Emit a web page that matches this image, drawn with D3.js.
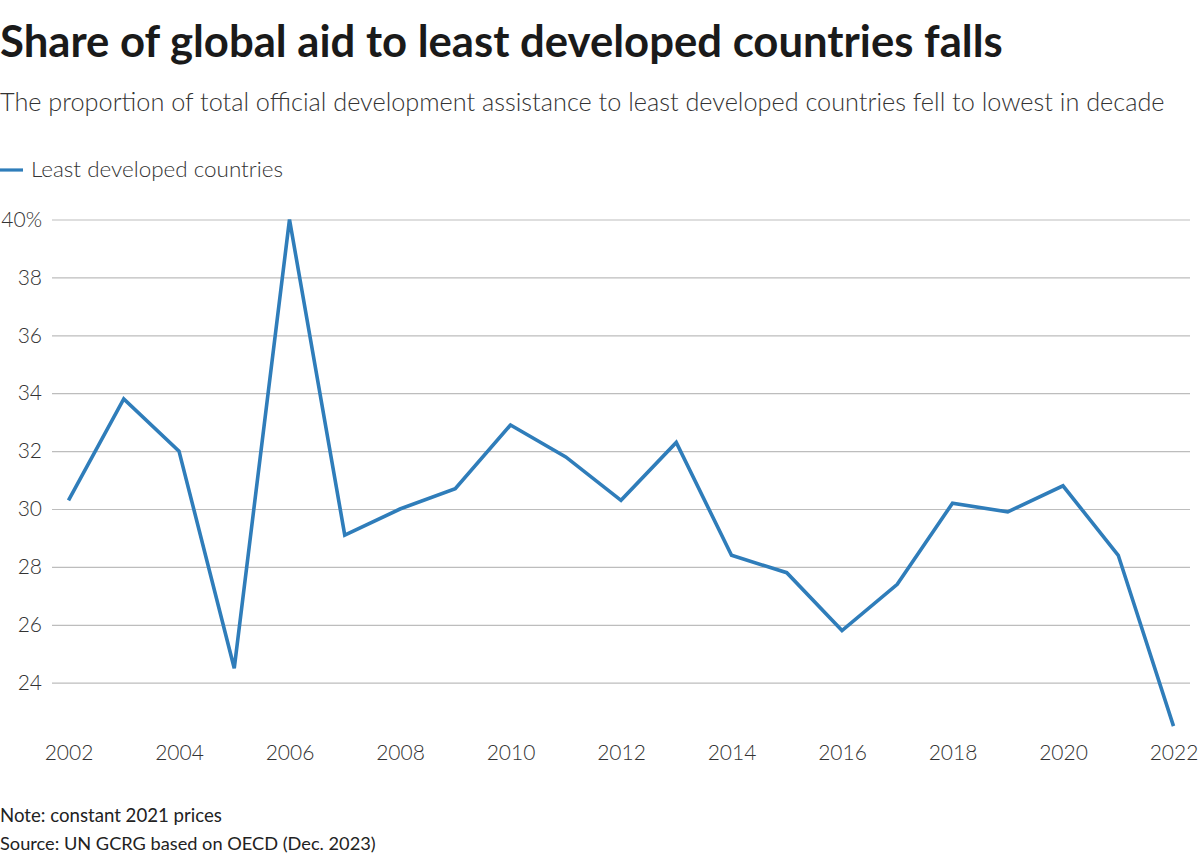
<!DOCTYPE html>
<html>
<head>
<meta charset="utf-8">
<script src="https://cdn.jsdelivr.net/npm/d3@7"></script>
<style>
  html, body { margin: 0; padding: 0; background: #fff; }
  svg text { font-family: "Source Sans Pro", Lato, "Noto Sans", sans-serif; }
</style>
</head>
<body>
<svg id="chart" width="1200" height="860"></svg>
<script>
const years = [2002,2003,2004,2005,2006,2007,2008,2009,2010,2011,2012,2013,2014,2015,2016,2017,2018,2019,2020,2021,2022];
const shares = [30.3,33.8,32.0,24.5,40.0,29.1,30.0,30.7,32.9,31.8,30.3,32.3,28.4,27.8,25.8,27.4,30.2,29.9,30.8,28.4,22.5];
const yTicks = [24,26,28,30,32,34,36,38,40];
const xTicks = [2002,2004,2006,2008,2010,2012,2014,2016,2018,2020,2022];
const seriesName = "Least developed countries";

const svg = d3.select("#chart");

const x = d3.scaleLinear().domain([2002, 2022]).range([68.5, 1173.5]);
const y = d3.scaleLinear().domain([24, 40]).range([682.7, 219.5]);

function fit(sel, target) {
  const node = sel.node();
  const w = node.getComputedTextLength();
  const fs = parseFloat(sel.attr("font-size"));
  sel.attr("font-size", fs * target / w);
}

// Title
const title = svg.append("text").attr("x", 0).attr("y", 57)
  .attr("font-size", 40).attr("font-weight", 700).attr("fill", "#1a1a1a")
  .text("Share of global aid to least developed countries falls");
fit(title, 1003);

const sub = svg.append("text").attr("x", 0).attr("y", 111)
  .attr("font-size", 26).attr("font-weight", 300).attr("fill", "#333")
  .text("The proportion of total official development assistance to least developed countries fell to lowest in decade");
fit(sub, 1165);

// Legend
svg.append("line").attr("x1", 0).attr("x2", 23).attr("y1", 170).attr("y2", 170)
  .attr("stroke", "#2f7dba").attr("stroke-width", 3.2);
const leg = svg.append("text").attr("x", 31).attr("y", 177)
  .attr("font-size", 21).attr("font-weight", 300).attr("fill", "#333")
  .text(seriesName);
fit(leg, 252);

// Grid
const yAxis = d3.axisLeft(y).tickValues(yTicks).tickSize(0)
  .tickFormat(d => d === 40 ? "40%" : d);
const gy = svg.append("g").attr("transform", "translate(52,0)").call(yAxis);
gy.select(".domain").remove();
gy.selectAll(".tick text").attr("x", -10).attr("dy", "0.32em")
  .attr("font-size", 21).attr("font-weight", 300).attr("fill", "#333")
  .style("font-family", '"Source Sans Pro", Lato, "Noto Sans", sans-serif');
gy.selectAll(".tick line").attr("x2", 1190 - 52).attr("stroke", "#bdbdbd").attr("stroke-width", 1.2);

const xAxis = d3.axisBottom(x).tickValues(xTicks).tickSize(0).tickFormat(d3.format("d"));
const gx = svg.append("g").attr("transform", "translate(0,738)").call(xAxis);
gx.select(".domain").remove();
gx.selectAll(".tick text").attr("dy", 0).attr("y", 22)
  .attr("font-size", 21).attr("font-weight", 300).attr("fill", "#333")
  .style("font-family", '"Source Sans Pro", Lato, "Noto Sans", sans-serif');

// Line
const line = d3.line().x((d, i) => x(years[i])).y(d => y(d));
svg.append("path").datum(shares).attr("d", line)
  .attr("fill", "none").attr("stroke", "#2f7dba").attr("stroke-width", 3.6)
  .attr("stroke-linejoin", "miter").attr("stroke-linecap", "butt");

// Notes
const note = svg.append("text").attr("x", 0).attr("y", 822).attr("font-size", 19).attr("fill", "#222")
  .text("Note: constant 2021 prices");
fit(note, 222);
const src = svg.append("text").attr("x", 0).attr("y", 850).attr("font-size", 19).attr("fill", "#222")
  .text("Source: UN GCRG based on OECD (Dec. 2023)");
fit(src, 376);
</script>
</body>
</html>
